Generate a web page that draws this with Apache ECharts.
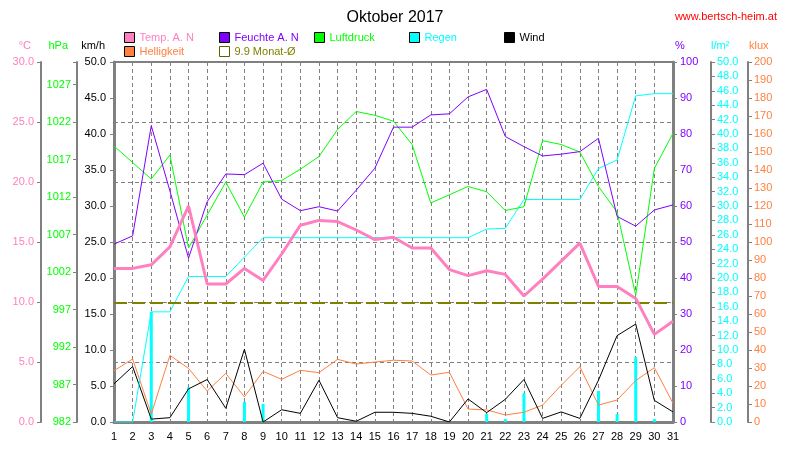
<!DOCTYPE html>
<html>
<head>
<meta charset="utf-8">
<script src="https://cdn.jsdelivr.net/npm/echarts@6/dist/echarts.min.js"></script>
<style>
html,body{margin:0;padding:0;background:#fff;}
#chart{width:790px;height:460px;}
</style>
</head>
<body>
<div id="chart"></div>
<script>
const days = ['1','2','3','4','5','6','7','8','9','10','11','12','13','14','15','16','17','18','19','20','21','22','23','24','25','26','27','28','29','30','31'];
const temperature = [12.8,12.8,13.1,14.6,18.0,11.5,11.5,12.8,11.8,14.0,16.4,16.8,16.7,16.0,15.2,15.4,14.5,14.5,12.7,12.2,12.6,12.3,10.5,11.9,13.4,14.9,11.3,11.3,10.3,7.3,8.4];
const humidity = [49.4,51.7,82.3,64.2,45.5,61.2,68.9,68.7,71.9,61.9,58.7,59.8,58.6,64.4,70.5,81.9,81.9,85.3,85.6,90.3,92.4,79.3,76.5,73.9,74.4,75.1,78.8,57.1,54.4,58.9,60.3];
const pressure = [1018.8,1016.6,1014.4,1017.6,1005.2,1009.6,1014.0,1009.3,1014.0,1014.2,1015.7,1017.4,1021.0,1023.4,1022.9,1022.1,1019.0,1011.2,1012.3,1013.4,1012.7,1010.2,1010.7,1019.5,1019.0,1018.0,1013.4,1010.0,998.9,1015.8,1020.5];
const rainTotal = [0,0,15.3,15.3,20.2,20.2,20.2,22.9,25.6,25.6,25.6,25.6,25.6,25.6,25.6,25.6,25.6,25.6,25.6,25.6,26.8,26.9,30.9,30.9,30.9,30.9,35.2,36.4,45.3,45.6,45.6];
const rainDaily = [null,null,15.3,null,4.8,null,null,2.8,2.5,null,null,null,null,null,null,null,null,null,null,null,1.1,0.4,4.0,null,null,null,4.3,1.1,9.0,0.4,null];
const wind = [5.3,7.7,0.4,0.6,4.6,5.9,1.9,10.1,0.0,1.7,1.2,5.8,0.6,0.1,1.35,1.35,1.2,0.8,0.0,3.2,1.3,3.15,5.9,0.5,1.4,0.5,5.8,12.0,13.6,3.0,1.4];
const brightness = [28.5,35.0,4.4,37.0,29.8,17.2,27.0,14.0,28.1,23.7,28.7,27.4,34.8,32.2,33.3,34.3,33.9,26.1,27.6,7.2,6.7,3.9,5.4,9.4,20.4,30.7,9.4,12.2,23.0,30.2,10.4];
const monthAvg = 9.9;

const FONT = 'Liberation Sans, Arial, sans-serif';
const GRAY = '#808080';
const C = {temp:'#FF80C0', hum:'#8000FF', press:'#00FF00', rain:'#00FFFF', wind:'#000000', light:'#FF8040', avg:'#808000'};

function yAx(opt){
  return Object.assign({
    type:'value', nameLocation:'end', nameGap:11,
    axisLine:{show:true, onZero:false, lineStyle:{color:GRAY, width:2}},
    axisTick:{show:true, length:4, lineStyle:{color:GRAY, width:1}},
    splitLine:{show:false},
    axisLabel:{fontSize:11, fontFamily:FONT, margin:6}
  }, opt);
}

const chart = echarts.init(document.getElementById('chart'), null, {renderer:'canvas'});
const legendItems = [
  ['Temp. A. N', 124, 32, C.temp],
  ['Feuchte A. N', 219, 32, C.hum],
  ['Luftdruck', 314, 32, C.press],
  ['Regen', 409, 32, C.rain],
  ['Wind', 504, 32, C.wind],
  ['Helligkeit', 124, 46, C.light],
  ['9.9 Monat-Ø', 219, 46, C.avg]
];
const option = {
  animation:false,
  backgroundColor:'#ffffff',
  textStyle:{fontFamily:FONT},
  title:[
    {text:'Oktober 2017', left:'center', top:5, textStyle:{fontSize:16, fontWeight:'normal', color:'#000', fontFamily:FONT}},
    {text:'www.bertsch-heim.at', right:8, top:6, textStyle:{fontSize:11, fontWeight:'normal', color:'#FF0000', fontFamily:FONT}}
  ],
  legend: legendItems.map(function(it){
    const hollow = it[0] === '9.9 Monat-Ø';
    return {
      data:[it[0]], left:it[1], top:it[2], icon:'rect', itemWidth:10, itemHeight:10, padding:0,
      selectedMode:false,
      itemStyle: hollow ? {color:'rgba(0,0,0,0)', borderColor:'#606000', borderWidth:1} : {borderColor:'#000', borderWidth:1},
      textStyle:{color:it[3], fontSize:11, fontFamily:FONT}
    };
  }),
  grid:{left:114, right:117, top:62, bottom:38, show:true, borderColor:GRAY, borderWidth:2, containLabel:false},
  xAxis:{
    type:'category', data:days, boundaryGap:false,
    axisLine:{lineStyle:{color:GRAY, width:3}},
    axisTick:{show:false},
    axisLabel:{color:'#000', fontSize:11, fontFamily:FONT, margin:9, interval:0},
    splitLine:{show:true, interval:0, lineStyle:{color:GRAY, type:[4,3], width:1}}
  },
  yAxis:[
    yAx({name:'km/h', position:'left', offset:0, min:0, max:50, interval:5,
      axisLine:{show:true, onZero:false, lineStyle:{color:GRAY, width:3}},
      nameTextStyle:{color:'#000', fontSize:11, align:'right', padding:[0,9,0,0]},
      axisLabel:{color:'#000', fontSize:11, fontFamily:FONT, margin:8, formatter:function(v){return v.toFixed(1);}}}),
    yAx({name:'hPa', position:'left', offset:37, min:982, max:1030, interval:5,
      nameTextStyle:{color:C.press, fontSize:11, align:'right', padding:[0,9,0,0]},
      axisLabel:{color:C.press, fontSize:11, fontFamily:FONT, margin:6, formatter:function(v){return v>1027?'':String(v);}}}),
    yAx({name:'°C', position:'left', offset:73, min:0, max:30, interval:5,
      nameTextStyle:{color:C.temp, fontSize:11, align:'right', padding:[0,10,0,0]},
      splitLine:{show:true, lineStyle:{color:GRAY, type:[4,3], width:1}},
      axisLabel:{color:C.temp, fontSize:11, fontFamily:FONT, margin:7, formatter:function(v){return v.toFixed(1);}}}),
    yAx({name:'%', position:'right', offset:0, min:0, max:100, interval:10,
      axisLine:{show:true, onZero:false, lineStyle:{color:GRAY, width:3}},
      nameTextStyle:{color:C.hum, fontSize:11, align:'left', padding:[0,0,0,2]},
      axisLabel:{color:C.hum, fontSize:11, fontFamily:FONT, margin:7}}),
    yAx({name:'l/m²', position:'right', offset:38, min:0, max:50, interval:2,
      nameTextStyle:{color:C.rain, fontSize:11, align:'left', padding:[0,0,0,0]},
      axisLabel:{color:C.rain, fontSize:11, fontFamily:FONT, margin:6, formatter:function(v){return v.toFixed(1);}}}),
    yAx({name:'klux', position:'right', offset:75, min:0, max:200, interval:10,
      nameTextStyle:{color:C.light, fontSize:11, align:'left', padding:[0,0,0,1]},
      axisLabel:{color:C.light, fontSize:11, fontFamily:FONT, margin:6}})
  ],
  series:[
    {name:'Regen', type:'bar', yAxisIndex:4, data:rainDaily, barWidth:3, itemStyle:{color:C.rain}, z:2},
    {name:'9.9 Monat-Ø', type:'line', yAxisIndex:2, data:[], itemStyle:{color:C.avg}, z:3,
      markLine:{silent:true, symbol:['none','none'], label:{show:false},
        lineStyle:{color:C.avg, width:2, type:[13,5]}, data:[{yAxis:monthAvg}]}},
    {name:'Helligkeit', type:'line', yAxisIndex:5, data:brightness, showSymbol:false, symbol:'none', lineStyle:{color:C.light, width:1}, itemStyle:{color:C.light}, z:4},
    {name:'Wind', type:'line', yAxisIndex:0, data:wind, showSymbol:false, symbol:'none', lineStyle:{color:C.wind, width:1}, itemStyle:{color:C.wind}, z:4},
    {name:'Regen', type:'line', yAxisIndex:4, data:rainTotal, showSymbol:false, symbol:'none', lineStyle:{color:C.rain, width:1}, itemStyle:{color:C.rain}, z:4},
    {name:'Luftdruck', type:'line', yAxisIndex:1, data:pressure, showSymbol:false, symbol:'none', lineStyle:{color:C.press, width:1}, itemStyle:{color:C.press}, z:5},
    {name:'Feuchte A. N', type:'line', yAxisIndex:3, data:humidity, showSymbol:false, symbol:'none', lineStyle:{color:C.hum, width:1}, itemStyle:{color:C.hum}, z:5},
    {name:'Temp. A. N', type:'line', yAxisIndex:2, data:temperature, showSymbol:false, symbol:'none', lineStyle:{color:C.temp, width:3}, itemStyle:{color:C.temp}, z:6}
  ]
};
chart.setOption(option);
</script>
</body>
</html>
